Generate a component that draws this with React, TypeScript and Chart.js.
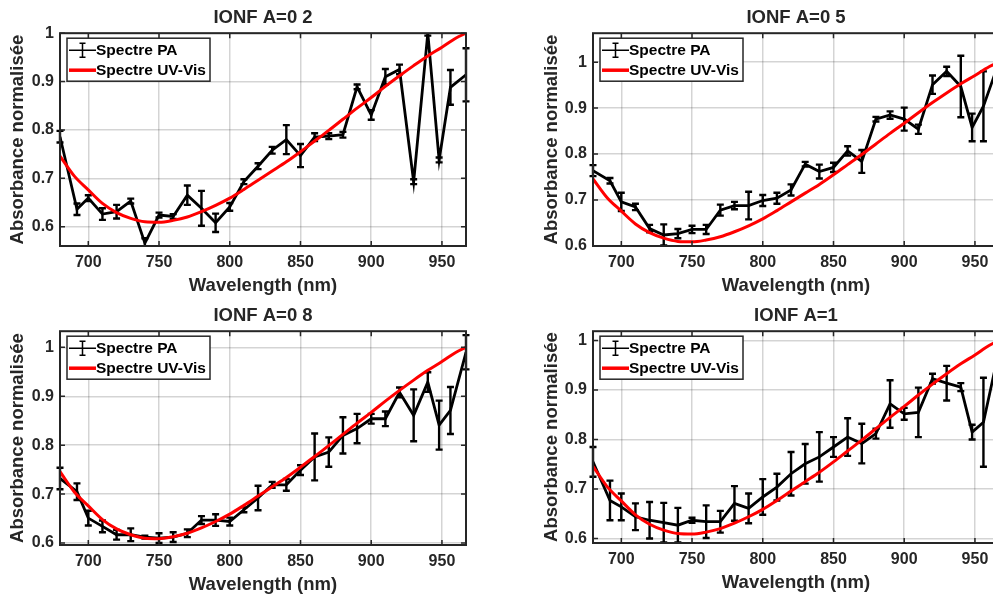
import React, { useEffect, useRef } from "react";
import { Chart, registerables } from "chart.js";

Chart.register(...registerables);

// ---------- data ----------
const WAVELENGTHS = [680, 692, 700, 710, 720, 730, 740, 750, 760, 770, 780, 790, 800, 810, 820, 830, 840, 850, 860, 870, 880, 890, 900, 910, 920, 930, 940, 948, 956, 967];

const PA_A02 = [0.786, 0.636, 0.659, 0.626, 0.631, 0.653, 0.566, 0.624, 0.621, 0.665, 0.638, 0.608, 0.641, 0.693, 0.725, 0.758, 0.780, 0.747, 0.785, 0.787, 0.790, 0.889, 0.831, 0.910, 0.925, 0.693, 1.0, 0.738, 0.888, 0.914];
const ERR_A02 = [0.012, 0.012, 0.006, 0.012, 0.014, 0.005, 0.01, 0.005, 0.005, 0.02, 0.036, 0.019, 0.008, 0.005, 0.006, 0.007, 0.03, 0.024, 0.008, 0.006, 0.006, 0.005, 0.01, 0.016, 0.01, 0.005, 0.005, 0.005, 0.036, 0.055];

const PA_A05 = [0.764, 0.742, 0.696, 0.685, 0.638, 0.624, 0.627, 0.636, 0.636, 0.678, 0.688, 0.688, 0.699, 0.704, 0.722, 0.778, 0.762, 0.771, 0.807, 0.784, 0.876, 0.885, 0.876, 0.854, 0.951, 0.980, 0.947, 0.858, 0.904, 1.0];
const ERR_A05 = [0.012, 0.006, 0.02, 0.007, 0.008, 0.023, 0.01, 0.008, 0.01, 0.012, 0.008, 0.03, 0.012, 0.012, 0.012, 0.005, 0.015, 0.01, 0.01, 0.025, 0.005, 0.008, 0.025, 0.01, 0.02, 0.01, 0.067, 0.03, 0.076, 0.03];

const PA_A08 = [0.732, 0.705, 0.651, 0.634, 0.617, 0.617, 0.612, 0.610, 0.612, 0.620, 0.647, 0.647, 0.644, 0.668, 0.692, 0.719, 0.719, 0.749, 0.776, 0.786, 0.820, 0.834, 0.854, 0.854, 0.908, 0.861, 0.929, 0.841, 0.871, 0.99];
const ERR_A08 = [0.022, 0.017, 0.015, 0.012, 0.01, 0.013, 0.003, 0.01, 0.01, 0.008, 0.008, 0.012, 0.008, 0.005, 0.025, 0.006, 0.012, 0.01, 0.048, 0.03, 0.037, 0.03, 0.01, 0.015, 0.01, 0.053, 0.02, 0.05, 0.048, 0.035];

const PA_A1 = [0.755, 0.677, 0.664, 0.644, 0.637, 0.632, 0.627, 0.637, 0.634, 0.634, 0.671, 0.661, 0.684, 0.704, 0.731, 0.751, 0.765, 0.785, 0.805, 0.792, 0.812, 0.872, 0.852, 0.855, 0.923, 0.914, 0.906, 0.815, 0.835, 0.98];
const ERR_A1 = [0.03, 0.04, 0.027, 0.027, 0.037, 0.04, 0.035, 0.005, 0.033, 0.022, 0.035, 0.03, 0.036, 0.027, 0.044, 0.04, 0.05, 0.02, 0.038, 0.04, 0.01, 0.048, 0.012, 0.05, 0.01, 0.035, 0.008, 0.015, 0.09, 0.05];

const UV_WAVELENGTHS = [680, 690, 700, 710, 720, 730, 740, 750, 760, 770, 780, 790, 800, 810, 820, 830, 840, 850, 860, 870, 880, 890, 900, 910, 920, 930, 940, 950, 960, 967];
const UV_VIS = [0.746, 0.705, 0.676, 0.648, 0.629, 0.617, 0.610, 0.609, 0.613, 0.620, 0.631, 0.644, 0.659, 0.677, 0.696, 0.715, 0.734, 0.755, 0.777, 0.799, 0.822, 0.845, 0.867, 0.890, 0.912, 0.933, 0.953, 0.971, 0.990, 1.0];

const X_TICKS = [700, 750, 800, 850, 900, 950];
const Y_TICKS = [0.6, 0.7, 0.8, 0.9, 1];
const TITLES = ["IONF A=0 2", "IONF A=0 5", "IONF A=0 8", "IONF A=1"];
const SERIES_LABELS = ["Spectre PA", "Spectre UV-Vis"];
const X_LABEL = "Wavelength (nm)";
const Y_LABEL = "Absorbance normalisée";
const X_RANGE = [680, 967];
const Y_RANGES = [[0.56, 1.0], [0.6, 1.063], [0.596, 1.033], [0.591, 1.019]];

// ---------- layout ----------
const PANELS = [
  { left: 0, top: 0, width: 496, height: 300, yAxisW: 60, padRight: 30 },
  { left: 534, top: 0, width: 468, height: 300, yAxisW: 59, padRight: 3 },
  { left: 0, top: 298, width: 496, height: 301, yAxisW: 60, padRight: 30 },
  { left: 534, top: 298, width: 468, height: 299, yAxisW: 59, padRight: 3 },
];

const FONT = "'Liberation Sans', Arial, Helvetica, sans-serif";
const TEXT = "#262626";
const GRID = "rgba(0,0,0,0.17)";

const boxPlugin = {
  id: "matlabBox",
  afterDatasetDraw(chart: any, args: any) {
    const ds = chart.data.datasets[args.index];
    if (!ds.errors) return;
    const { ctx, chartArea } = chart;
    const xs = chart.scales.x;
    const ys = chart.scales.y;
    ctx.save();
    ctx.beginPath();
    ctx.rect(chartArea.left - 5, chartArea.top, chartArea.right - chartArea.left + 10, chartArea.bottom - chartArea.top);
    ctx.clip();
    ctx.strokeStyle = "#000";
    ctx.lineWidth = 2.4;
    ds.data.forEach((p: any, i: number) => {
      const e = ds.errors[i];
      const px = xs.getPixelForValue(p.x);
      const y1 = ys.getPixelForValue(p.y - e);
      const y2 = ys.getPixelForValue(p.y + e);
      ctx.beginPath();
      ctx.moveTo(px, y1);
      ctx.lineTo(px, y2);
      ctx.moveTo(px - 3.5, y1);
      ctx.lineTo(px + 3.5, y1);
      ctx.moveTo(px - 3.5, y2);
      ctx.lineTo(px + 3.5, y2);
      ctx.stroke();
    });
    ctx.restore();
  },
  afterDraw(chart: any) {
    const { ctx, chartArea } = chart;
    const { left, top, right, bottom } = chartArea;
    const xs = chart.scales.x;
    const ys = chart.scales.y;
    ctx.save();
    // inward ticks
    ctx.strokeStyle = TEXT;
    ctx.lineWidth = 1.5;
    const tl = 5;
    ctx.beginPath();
    xs.ticks.forEach((t: any) => {
      const px = xs.getPixelForValue(t.value);
      ctx.moveTo(px, bottom);
      ctx.lineTo(px, bottom - tl);
      ctx.moveTo(px, top);
      ctx.lineTo(px, top + tl);
    });
    ys.ticks.forEach((t: any) => {
      const py = ys.getPixelForValue(t.value);
      ctx.moveTo(left, py);
      ctx.lineTo(left + tl, py);
      ctx.moveTo(right, py);
      ctx.lineTo(right - tl, py);
    });
    ctx.stroke();
    // box
    ctx.lineWidth = 2;
    ctx.strokeRect(left, top, right - left, bottom - top);

    // legend
    const bx = left + 7;
    const by = top + 5;
    const bw = 143;
    const bh = 43;
    ctx.fillStyle = "#fff";
    ctx.fillRect(bx, by, bw, bh);
    ctx.lineWidth = 1.5;
    ctx.strokeStyle = TEXT;
    ctx.strokeRect(bx, by, bw, bh);
    const datasets = chart.data.datasets;
    ctx.font = `bold 15.5px ${FONT}`;
    ctx.textBaseline = "middle";
    ctx.textAlign = "left";
    datasets.forEach((ds: any, i: number) => {
      const ry = by + 12 + i * 20;
      ctx.strokeStyle = ds.borderColor;
      ctx.lineWidth = ds.errors ? 1.5 : 3.5;
      ctx.beginPath();
      ctx.moveTo(bx + 2, ry);
      ctx.lineTo(bx + 29, ry);
      if (ds.errors) {
        const cx = bx + 15.5;
        ctx.moveTo(cx, ry - 7);
        ctx.lineTo(cx, ry + 7);
        ctx.moveTo(cx - 3, ry - 7);
        ctx.lineTo(cx + 3, ry - 7);
        ctx.moveTo(cx - 3, ry + 7);
        ctx.lineTo(cx + 3, ry + 7);
      }
      ctx.stroke();
      ctx.fillStyle = "#000";
      ctx.fillText(ds.label, bx + 29, ry + 1);
    });
    ctx.restore();
  },
};

function Panel({ idx, pa, err }: { idx: number; pa: number[]; err: number[] }) {
  const ref = useRef<HTMLCanvasElement | null>(null);
  const p = PANELS[idx];
  useEffect(() => {
    if (!ref.current) return;
    const [ymin, ymax] = Y_RANGES[idx];
    const chart = new Chart(ref.current, {
      type: "line",
      data: {
        datasets: [
          {
            label: SERIES_LABELS[0],
            data: WAVELENGTHS.map((x, i) => ({ x, y: pa[i] })),
            borderColor: "#000000",
            borderWidth: 2.8,
            pointRadius: 0,
            tension: 0,
            order: 2,
            errors: err,
          } as any,
          {
            label: SERIES_LABELS[1],
            data: UV_WAVELENGTHS.map((x, i) => ({ x, y: UV_VIS[i] })),
            borderColor: "#ff0000",
            borderWidth: 3,
            pointRadius: 0,
            tension: 0.4,
            cubicInterpolationMode: "monotone",
            order: 1,
          },
        ],
      },
      options: {
        responsive: false,
        animation: false,
        events: [],
        layout: { padding: { left: 0, right: p.padRight, top: 0, bottom: 0 } },
        plugins: {
          legend: { display: false },
          tooltip: { enabled: false },
          title: {
            display: true,
            text: TITLES[idx],
            fullSize: false,
            color: TEXT,
            font: { family: FONT, size: 18.5, weight: "bold" },
            padding: { top: 7, bottom: 4 },
          },
        },
        scales: {
          x: {
            type: "linear",
            position: "bottom",
            min: X_RANGE[0],
            max: X_RANGE[1],
            afterBuildTicks: (s: any) => {
              s.ticks = X_TICKS.map((v) => ({ value: v }));
            },
            afterFit: (s: any) => {
              s.height = 54;
            },
            ticks: {
              color: TEXT,
              font: { family: FONT, size: 16, weight: "bold" },
              padding: 7,
              maxRotation: 0,
              autoSkip: false,
              callback: (v: any) => String(v),
            },
            grid: { color: GRID, lineWidth: 1.5, drawTicks: false },
            border: { display: false },
            title: {
              display: true,
              text: X_LABEL,
              color: TEXT,
              font: { family: FONT, size: 18.5, weight: "bold" },
              padding: { top: 0, bottom: 3 },
            },
          },
          y: {
            type: "linear",
            position: "left",
            min: ymin,
            max: ymax,
            afterBuildTicks: (s: any) => {
              s.ticks = Y_TICKS.map((v) => ({ value: v }));
            },
            afterFit: (s: any) => {
              s.width = p.yAxisW;
            },
            ticks: {
              color: TEXT,
              font: { family: FONT, size: 16, weight: "bold" },
              padding: 6,
              autoSkip: false,
              callback: (v: any) => (v === 1 ? "1" : Number(v).toFixed(1)),
            },
            grid: { color: GRID, lineWidth: 1.5, drawTicks: false },
            border: { display: false },
            title: {
              display: true,
              text: Y_LABEL,
              color: TEXT,
              font: { family: FONT, size: 18.5, weight: "bold" },
              padding: { top: 7, bottom: 0 },
            },
          },
        },
      } as any,
      plugins: [boxPlugin],
    });
    return () => chart.destroy();
  }, []);
  return (
    <canvas
      ref={ref}
      width={p.width}
      height={p.height}
      style={{ position: "absolute", left: p.left, top: p.top, width: p.width, height: p.height }}
    />
  );
}

export default function App() {
  return (
    <div
      style={{
        position: "fixed",
        left: 0,
        top: 0,
        width: 993,
        height: 594,
        overflow: "hidden",
        background: "#fff",
      }}
    >
      <Panel idx={0} pa={PA_A02} err={ERR_A02} />
      <Panel idx={1} pa={PA_A05} err={ERR_A05} />
      <Panel idx={2} pa={PA_A08} err={ERR_A08} />
      <Panel idx={3} pa={PA_A1} err={ERR_A1} />
    </div>
  );
}
